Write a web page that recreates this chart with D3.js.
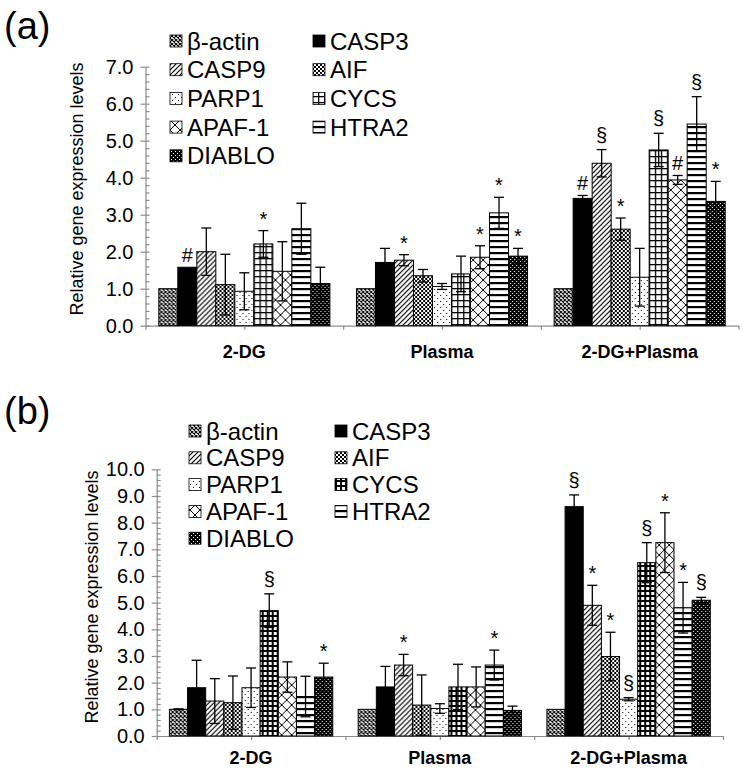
<!DOCTYPE html>
<html>
<head>
<meta charset="utf-8">
<script src="https://cdnjs.cloudflare.com/ajax/libs/d3/7.8.5/d3.min.js"></script>
<style>
  body { margin: 0; background: #fff; }
  text { font-family: "Liberation Sans", Arial, sans-serif; fill: #000; }
</style>
</head>
<body>
<script>
// genes (series) and treatment groups (categories)
var genes = ["β-actin", "CASP3", "CASP9", "AIF", "PARP1", "CYCS", "APAF-1", "HTRA2", "DIABLO"];
var groups = ["2-DG", "Plasma", "2-DG+Plasma"];

// panel (a): means, error (SD) and significance marks, one row per group
var meansA = [
    [1.00, 1.58, 2.00, 1.11, 0.93, 2.21, 1.47, 2.62, 1.14],
    [1.00, 1.71, 1.77, 1.35, 1.06, 1.40, 1.85, 3.05, 1.88],
    [1.00, 3.44, 4.39, 2.61, 1.31, 4.75, 3.94, 5.45, 3.36]
];
var errA = [
    [0.00, 0.00, 0.64, 0.82, 0.50, 0.36, 0.80, 0.69, 0.44],
    [0.00, 0.38, 0.15, 0.17, 0.08, 0.48, 0.31, 0.42, 0.21],
    [0.00, 0.08, 0.37, 0.30, 0.78, 0.45, 0.12, 0.74, 0.54]
];
var sigA = [
    ["", "#", "", "", "", "*", "", "", ""],
    ["", "", "*", "", "", "", "*", "*", "*"],
    ["", "#", "§", "*", "", "§", "#", "§", "*"]
];

// panel (b)
var meansB = [
    [1.00, 1.81, 1.31, 1.25, 1.81, 4.70, 2.21, 1.48, 2.21],
    [1.00, 1.84, 2.66, 1.16, 1.03, 1.84, 1.84, 2.66, 0.96],
    [1.00, 8.60, 4.90, 2.98, 1.38, 6.50, 7.25, 4.81, 5.09]
];
var errB = [
    [0.02, 1.03, 0.84, 1.00, 0.74, 0.63, 0.57, 0.76, 0.52],
    [0.00, 0.77, 0.40, 1.13, 0.18, 0.85, 0.75, 0.56, 0.16],
    [0.00, 0.44, 0.75, 0.91, 0.06, 0.75, 1.12, 0.95, 0.11]
];
var sigB = [
    ["", "", "", "", "", "§", "", "", "*"],
    ["", "", "*", "", "", "", "", "*", ""],
    ["", "§", "*", "*", "§", "§", "*", "*", "§"]
];

var axisGray = "#8c8c8c";

var svg = d3.select("body").append("svg")
    .attr("width", 747)
    .attr("height", 771);

var defs = svg.append("defs");

function addPattern(id, w, h, bg, draw) {
    var p = defs.append("pattern")
        .attr("id", id)
        .attr("patternUnits", "userSpaceOnUse")
        .attr("width", w)
        .attr("height", h);
    p.append("rect").attr("width", w).attr("height", h).attr("fill", bg);
    draw(p);
}

// one set of hatch patterns per panel (the grid of CYCS differs a bit)
function makePatterns(tag, gridStep, gridWidth) {
    addPattern(tag + "-0", 4, 4, "#fff", function (p) {
        p.append("path").attr("d", "M0,0L4,4M4,0L0,4").attr("stroke", "#000").attr("stroke-width", 1.1);
    });
    addPattern(tag + "-2", 5, 5, "#fff", function (p) {
        p.append("path").attr("d", "M-1,6L6,-1M-1,1L1,-1M4,6L6,4").attr("stroke", "#000").attr("stroke-width", 1.2);
    });
    addPattern(tag + "-3", 4, 4, "#fff", function (p) {
        p.append("rect").attr("x", 0).attr("y", 0).attr("width", 2).attr("height", 2).attr("fill", "#000");
        p.append("rect").attr("x", 2).attr("y", 2).attr("width", 2).attr("height", 2).attr("fill", "#000");
    });
    addPattern(tag + "-4", 6, 6, "#fff", function (p) {
        p.append("rect").attr("x", 1).attr("y", 1).attr("width", 1).attr("height", 1).attr("fill", "#000");
        p.append("rect").attr("x", 4).attr("y", 4).attr("width", 1).attr("height", 1).attr("fill", "#000");
    });
    addPattern(tag + "-5", gridStep, gridStep, "#fff", function (p) {
        p.append("rect").attr("x", 0).attr("y", 0).attr("width", gridStep).attr("height", gridWidth).attr("fill", "#000");
        p.append("rect").attr("x", 0).attr("y", 0).attr("width", gridWidth).attr("height", gridStep).attr("fill", "#000");
    });
    addPattern(tag + "-6", 10, 10, "#fff", function (p) {
        p.append("path").attr("d", "M0,0L10,10M10,0L0,10").attr("stroke", "#000").attr("stroke-width", 1);
    });
    addPattern(tag + "-7", 6, 6, "#fff", function (p) {
        p.append("rect").attr("x", 0).attr("y", 0).attr("width", 6).attr("height", 2.2).attr("fill", "#000");
    });
    addPattern(tag + "-8", 4, 4, "#000", function (p) {
        p.append("rect").attr("x", 1).attr("y", 1).attr("width", 1).attr("height", 1).attr("fill", "#fff");
        p.append("rect").attr("x", 3).attr("y", 3).attr("width", 1).attr("height", 1).attr("fill", "#fff");
    });
}

makePatterns("pa", 6, 1.3);
makePatterns("pb", 5, 2);

function fillFor(tag, k) {
    if (k === 1) return "#000";
    return "url(#" + tag + "-" + k + ")";
}

function drawPanel(p) {
    var g = svg.append("g");

    var x0 = d3.scaleBand().domain(groups).range([p.left, p.right]);
    var x1 = d3.scaleBand().domain(genes).range([0, x0.bandwidth()])
        .paddingInner(0).paddingOuter(0.7);
    var y = d3.scaleLinear().domain([0, p.ymax]).range([p.bottom, p.top]);

    // y axis: major ticks with labels, minor ticks on the right side
    var yAxis = g.append("g")
        .attr("transform", "translate(" + p.left + ",0)")
        .call(d3.axisLeft(y)
            .tickValues(d3.range(0, p.ymax + 0.001, 1))
            .tickSizeInner(5).tickSizeOuter(0).tickPadding(7)
            .tickFormat(d3.format(".1f")));
    yAxis.selectAll("text").style("font-size", "20px").attr("fill", "#000");

    var yMinor = g.append("g")
        .attr("transform", "translate(" + p.left + ",0)")
        .call(d3.axisRight(y)
            .tickValues(d3.range(0, p.ymax + 0.001, 0.2))
            .tickSize(4).tickSizeOuter(0).tickFormat(""));
    yMinor.select(".domain").remove();

    // x axis: ticks at group edges and centres
    var xt = d3.scaleLinear().domain([0, groups.length]).range([p.left, p.right]);
    var xAxis = g.append("g")
        .attr("transform", "translate(0," + p.bottom + ")")
        .call(d3.axisBottom(xt)
            .tickValues(d3.range(0, groups.length + 0.01, 0.5))
            .tickSize(4).tickSizeOuter(0).tickFormat(""));

    [yAxis, yMinor, xAxis].forEach(function (a) {
        a.selectAll("path, line").attr("stroke", axisGray).attr("stroke-width", 1.2);
    });

    // bars
    groups.forEach(function (grp, gi) {
        var gg = g.append("g").attr("transform", "translate(" + x0(grp) + ",0)");

        gg.selectAll("rect")
            .data(genes)
            .enter().append("rect")
            .attr("x", function (d) { return x1(d); })
            .attr("y", function (d, k) { return y(p.means[gi][k]); })
            .attr("width", x1.bandwidth())
            .attr("height", function (d, k) { return y(0) - y(p.means[gi][k]); })
            .attr("fill", function (d, k) { return fillFor(p.tag, k); })
            .attr("stroke", "#000")
            .attr("stroke-width", 1);

        genes.forEach(function (gene, k) {
            var m = p.means[gi][k], e = p.errs[gi][k];
            var cx = x1(gene) + x1.bandwidth() / 2;
            if (e > 0) {
                var eb = gg.append("g").attr("stroke", "#000").attr("stroke-width", 1.3);
                eb.append("line").attr("x1", cx).attr("x2", cx).attr("y1", y(m - e)).attr("y2", y(m + e));
                eb.append("line").attr("x1", cx - 5).attr("x2", cx + 5).attr("y1", y(m + e)).attr("y2", y(m + e));
                eb.append("line").attr("x1", cx - 5).attr("x2", cx + 5).attr("y1", y(m - e)).attr("y2", y(m - e));
            }
            var s = p.sigs[gi][k];
            if (s) {
                gg.append("text")
                    .attr("x", cx)
                    .attr("y", y(m + e) - (s === "§" ? 8 : 5))
                    .attr("text-anchor", "middle")
                    .style("font-size", "20px")
                    .text(s);
            }
        });

        g.append("text")
            .attr("x", x0(grp) + x0.bandwidth() / 2)
            .attr("y", p.catY)
            .attr("text-anchor", "middle")
            .attr("dominant-baseline", "central")
            .style("font-size", "18px")
            .style("font-weight", "bold")
            .text(grp);
    });

    // axis title
    g.append("text")
        .attr("transform", "translate(" + p.titleX + "," + p.titleY + ") rotate(-90)")
        .attr("text-anchor", "middle")
        .attr("dominant-baseline", "central")
        .style("font-size", "18px")
        .text("Relative gene expression levels");

    // panel letter
    g.append("text")
        .attr("x", 4)
        .attr("y", p.letterY)
        .attr("dominant-baseline", "central")
        .style("font-size", "38px")
        .text(p.letter);

    // legend, two columns, row-major
    var leg = g.append("g");
    genes.forEach(function (gene, k) {
        var col = k % 2, row = Math.floor(k / 2);
        var cy = p.legY + row * p.legDy;
        leg.append("rect")
            .attr("x", p.legX[col])
            .attr("y", cy - 6)
            .attr("width", 12)
            .attr("height", 12)
            .attr("fill", fillFor(p.tag, k))
            .attr("stroke", "#000")
            .attr("stroke-width", 0.8);
        leg.append("text")
            .attr("x", p.legX[col] + 17)
            .attr("y", cy)
            .attr("dominant-baseline", "central")
            .style("font-size", "24px")
            .text(gene);
    });
}

drawPanel({
    tag: "pa", letter: "(a)", letterY: 26,
    means: meansA, errs: errA, sigs: sigA,
    left: 145.5, right: 738.5, top: 66.7, bottom: 325.7, ymax: 7,
    catY: 352, titleX: 77, titleY: 189,
    legX: [170, 313], legY: 41, legDy: 28.7
});

drawPanel({
    tag: "pb", letter: "(b)", letterY: 411,
    means: meansB, errs: errB, sigs: sigB,
    left: 156.7, right: 723, top: 469.3, bottom: 736, ymax: 10,
    catY: 758, titleX: 92, titleY: 597,
    legX: [189, 335], legY: 431, legDy: 26.8
});
</script>
</body>
</html>
